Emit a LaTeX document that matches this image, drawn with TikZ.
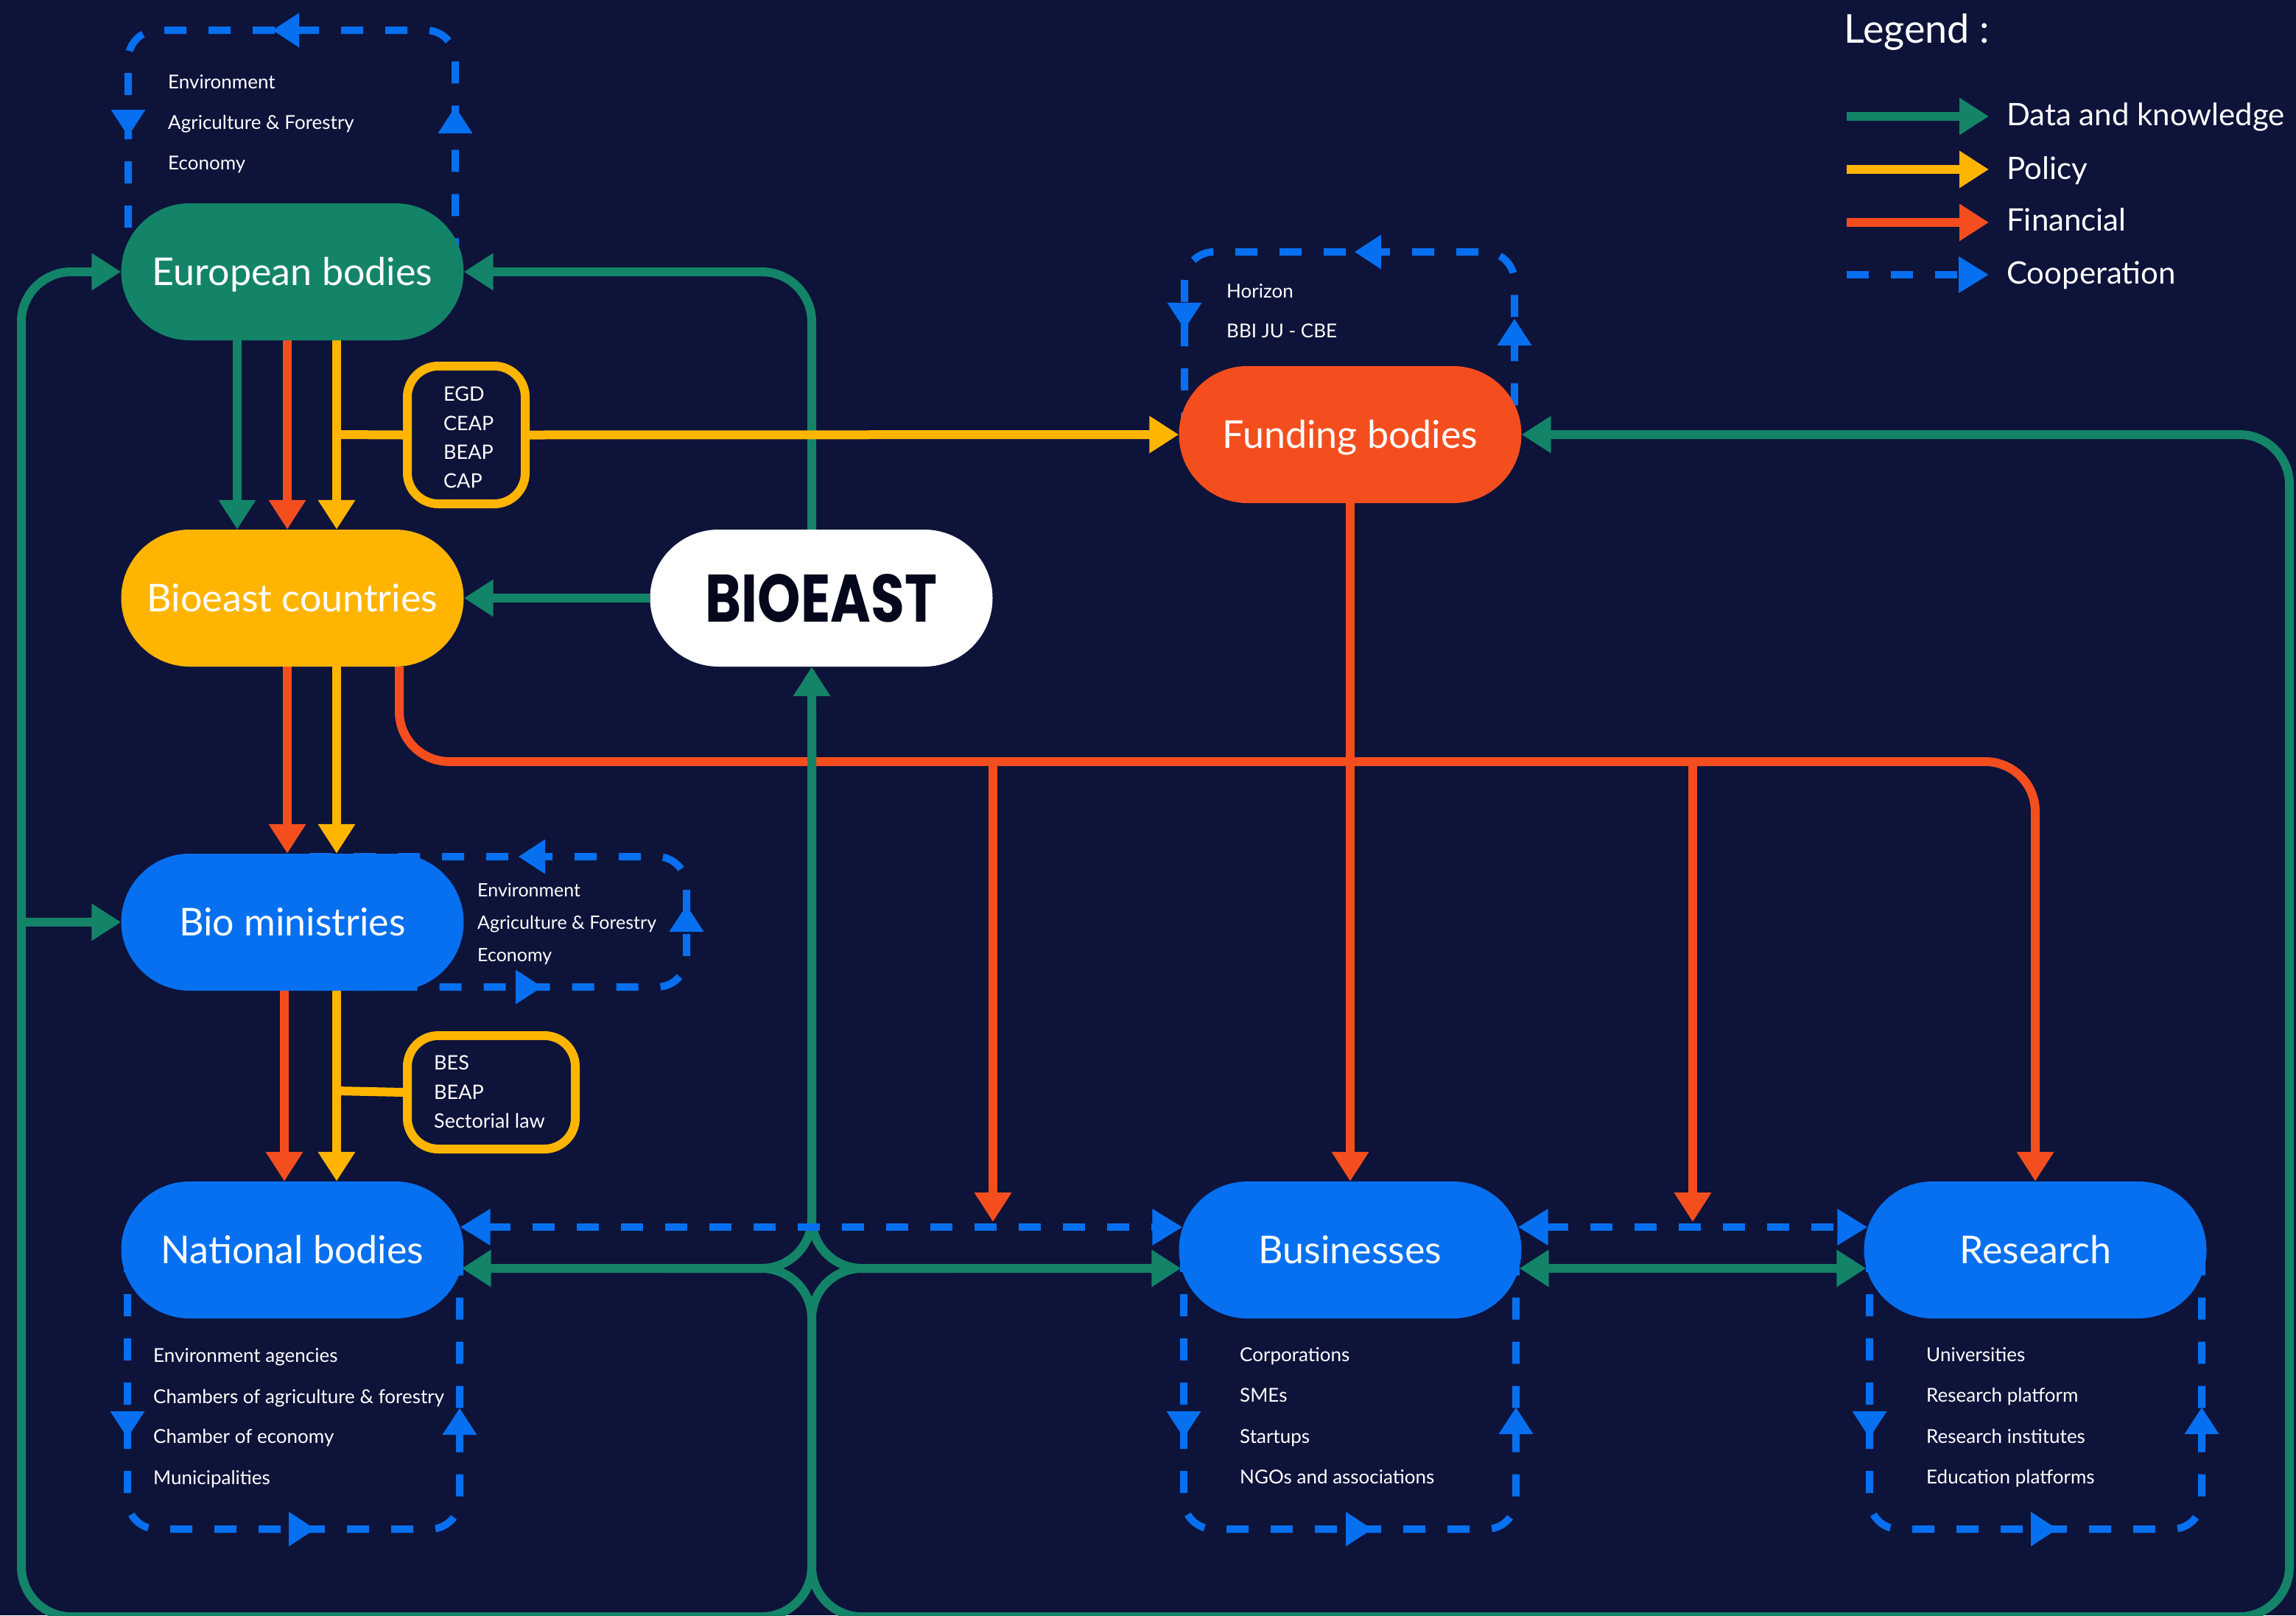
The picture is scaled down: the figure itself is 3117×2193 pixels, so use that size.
\documentclass[tikz,border=0pt]{standalone}
\usepackage{fontspec}
\usepackage{graphicx}
\setmainfont{Lato}
\newfontfamily\heavyfont{Poppins}
\usetikzlibrary{arrows.meta,calc}
\definecolor{bgc}{HTML}{0E133A}
\definecolor{cgreen}{HTML}{138468}
\definecolor{corange}{HTML}{F54E1E}
\definecolor{cyellow}{HTML}{FFB500}
\definecolor{cblue}{HTML}{0670F0}
\definecolor{cdark}{HTML}{05071C}
\pgfdeclarelayer{bgrect}
\pgfdeclarelayer{lines}
\pgfsetlayers{bgrect,lines,main}
\tikzset{
  gT/.tip={Triangle[width=48pt,length=40pt]},
  bT/.tip={Triangle[width=47pt,length=41pt]},
  sol/.style={line width=12pt},
  gline/.style={sol, draw=cgreen, -gT},
  oline/.style={sol, draw=corange, -gT},
  yline/.style={sol, draw=cyellow, -gT},
  yplain/.style={sol, draw=cyellow},
  bline/.style={draw=cblue, line width=10pt, dash pattern=on 30pt off 30pt},
  mainnode/.style={rectangle, rounded corners=93pt, minimum width=465pt, minimum height=186pt,
    inner sep=0pt, font=\fontsize{52}{60}\selectfont, text=white, text height=37pt, text depth=0pt},
  ybox/.style={rectangle, draw=cyellow, line width=12pt, rounded corners=42pt, inner sep=0pt, fill=bgc},
  small/.style={font=\fontsize{26}{30}\selectfont, text=white, inner sep=0pt, anchor=base west},
  mid/.style={font=\fontsize{27}{30}\selectfont, text=white, inner sep=0pt, anchor=base west},
  leg/.style={font=\fontsize{42}{48}\selectfont, text=white, inner sep=0pt, anchor=base west},
  mk/.pic={\fill[cblue] (0,0) -- (-36,-23.5) -- (-36,23.5) -- cycle;}
}
\begin{document}
\begin{tikzpicture}[x=1pt,y=-1pt]
\begin{pgfonlayer}{bgrect}
\fill[bgc] (0,0) rectangle (3117,2193);
\end{pgfonlayer}
\useasboundingbox (0,0) rectangle (3117,2193);

% main nodes
\node[mainnode, fill=cgreen] (eu) at (397,369) {European bodies};
\node[mainnode, fill=cyellow] (bc) at (397,812) {Bioeast countries};
\node[mainnode, fill=white, text=cdark, text height=65pt] (bio) at (1115,812) {\resizebox{314pt}{65pt}{\heavyfont\bfseries BIOEAST}};
\node[mainnode, fill=corange] (fund) at (1833,590) {Funding bodies};
\node[mainnode, fill=cblue] (bm) at (397,1252) {Bio ministries};
\node[mainnode, fill=cblue] (nb) at (397,1697) {National bodies};
\node[mainnode, fill=cblue] (bus) at (1833,1697) {Businesses};
\node[mainnode, fill=cblue] (res) at (2763,1697) {Research};

% policy boxes
\node[ybox, minimum width=160pt, minimum height=187pt] (egd) at (633,590.5) {};
\node[ybox, minimum width=228pt, minimum height=154pt] (bes) at (667,1483) {};

% texts
\node[small] (e1) at (228,120) {Environment};
\node[small] (e2) at (228,175) {Agriculture \& Forestry};
\node[small] (e3) at (228,230) {Economy};
\node[mid] (p1) at (602,544) {EGD};
\node[mid] (p2) at (602,584) {CEAP};
\node[mid] (p3) at (602,623) {BEAP};
\node[mid] (p4) at (602,662) {CAP};
\node[small] (f1) at (1665,404) {Horizon};
\node[small] (f2) at (1665,458) {BBI JU - CBE};
\node[small, font=\fontsize{25}{30}\selectfont] (m1) at (648,1217) {Environment};
\node[small, font=\fontsize{25}{30}\selectfont] (m2) at (648,1261) {Agriculture \& Forestry};
\node[small, font=\fontsize{25}{30}\selectfont] (m3) at (648,1305) {Economy};
\node[mid] (b1) at (589,1452) {BES};
\node[mid] (b2) at (589,1492) {BEAP};
\node[mid] (b3) at (589,1531) {Sectorial law};
\node[small] (n1) at (208,1849) {Environment agencies};
\node[small] (n2) at (208,1905) {Chambers of agriculture \& forestry};
\node[small] (n3) at (208,1959) {Chamber of economy};
\node[small] (n4) at (208,2015) {Municipalities};
\node[small] (s1) at (1683,1848) {Corporations};
\node[small] (s2) at (1683,1903) {SMEs};
\node[small] (s3) at (1683,1959) {Startups};
\node[small] (s4) at (1683,2014) {NGOs and associations};
\node[small] (r1) at (2615,1848) {Universities};
\node[small] (r2) at (2615,1903) {Research platform};
\node[small] (r3) at (2615,1959) {Research institutes};
\node[small] (r4) at (2615,2014) {Education platforms};

% legend
\node[font=\fontsize{54}{60}\selectfont, text=white, inner sep=0pt, anchor=base west] (legt) at (2503,58) {Legend :};
\node[leg] (l1) at (2724,170) {Data and knowledge};
\node[leg] (l2) at (2724,243) {Policy};
\node[leg] (l3) at (2724,313) {Financial};
\node[leg] (l4) at (2724,385) {Cooperation};
\coordinate (la1) at (2507,158); \coordinate (lb1) at (2700,158);
\coordinate (la2) at (2507,230); \coordinate (lb2) at (2700,230);
\coordinate (la3) at (2507,302); \coordinate (lb3) at (2700,302);
\coordinate (la4) at (2507,373); \coordinate (lb4) at (2700,373);
\draw[gline] (la1) -- (lb1);
\draw[yline] (la2) -- (lb2);
\draw[oline] (la3) -- (lb3);
\draw[bline, -bT] (la4) -- (lb4);

% helper coordinates
\coordinate (gx) at (1102,0);
\coordinate (gxl) at (900,1722);
\coordinate (gxr) at (1300,1722);
\coordinate (gl) at (29,1252);
\coordinate (yb1) at (457,590);
\coordinate (yb2) at (457,1481);
\coordinate (ob1) at (1348,1034);
\coordinate (ob1e) at (1348,1659);
\coordinate (ob2) at (2298,1034);
\coordinate (ob2e) at (2298,1659);

\begin{pgfonlayer}{lines}
% cooperation loops
\draw[bline, rounded corners=40pt] (174,369) -- (174,41) -- (618,41) -- (618,369);
\pic[rotate=180] at (370,41) {mk};
\pic[rotate=-90] at (174,185) {mk};
\pic[rotate=90] at (618,145) {mk};

\draw[bline, rounded corners=40pt] (1608,590) -- (1608,342) -- (2056,342) -- (2056,590);
\pic[rotate=180] at (1839,342) {mk};
\pic[rotate=-90] at (1608,447) {mk};
\pic[rotate=90] at (2056,433) {mk};

\draw[bline, rounded corners=40pt] (420,1163) -- (932,1163) -- (932,1340) -- (420,1340);
\pic[rotate=180] at (704,1163) {mk};
\pic at (736,1340) {mk};
\pic[rotate=90] at (932,1229) {mk};

\draw[bline, rounded corners=40pt] (173,1697) -- (173,2076) -- (624,2076) -- (624,1697);
\pic[rotate=-90] at (173,1952) {mk};
\pic at (428,2076) {mk};
\pic[rotate=90] at (624,1912) {mk};

\draw[bline, rounded corners=40pt] (1607,1697) -- (1607,2076) -- (2058,2076) -- (2058,1697);
\pic[rotate=-90] at (1607,1952) {mk};
\pic at (1863,2076) {mk};
\pic[rotate=90] at (2058,1911) {mk};

\draw[bline, rounded corners=40pt] (2538,1697) -- (2538,2076) -- (2989,2076) -- (2989,1697);
\pic[rotate=-90] at (2538,1952) {mk};
\pic at (2793,2076) {mk};
\pic[rotate=90] at (2989,1911) {mk};

% financial
\draw[oline] ($(eu.south)+(-7,0)$) -- ($(bc.north)+(-7,0)$);
\draw[oline] ($(bc.south)+(-7,0)$) -- ($(bm.north)+(-7,0)$);
\draw[oline] ($(bm.south)+(-11,0)$) -- ($(nb.north)+(-11,0)$);
\draw[oline] (fund.south) -- (bus.north);
\draw[oline, rounded corners=68pt] ($(bc.south)+(145,0)$) -- (542,1034) -- (2763,1034) -- (res.north);
\draw[oline] (ob1) -- (ob1e);
\draw[oline] (ob2) -- (ob2e);

% data and knowledge
\draw[gline] ($(eu.south)+(-75,0)$) -- ($(bc.north)+(-75,0)$);
\draw[gline] (bio.west) -- (bc.east);
\draw[gline, rounded corners=68pt] (bio.north -| gx) -- (1102,369) -- (eu.east);
\draw[gline, rounded corners=68pt, gT-gT] ($(nb.east)+(-3,25)$) -- (1102,1722) -- (bio.south -| gx);
\draw[gline, rounded corners=68pt] (bio.south -| gx) ++(0,60) -- (1102,1722) -- ($(bus.west)+(3,25)$);
\draw[gline, rounded corners=68pt] (gxl) -- (1102,1722) -- (1102,2195) -- (29,2195) -- (29,369) -- (eu.west);
\draw[gline, rounded corners=68pt] (gxr) -- (1102,1722) -- (1102,2195) -- (3108,2195) -- (3108,590) -- (fund.east);
\draw[gline] (gl) -- (bm.west);
\draw[gline, gT-gT] ($(bus.east)+(-3,25)$) -- ($(res.west)+(3,25)$);

% policy
\draw[yline] ($(eu.south)+(60,0)$) -- ($(bc.north)+(60,0)$);
\draw[yplain] (yb1) -- (egd.west);
\draw[yline] (egd.east) -- (fund.west);
\draw[yline] ($(bc.south)+(60,0)$) -- ($(bm.north)+(60,0)$);
\draw[yline] ($(bm.south)+(60,0)$) -- ($(nb.north)+(60,0)$);
\draw[yplain] (yb2) -- (bes.west);

% cooperation connectors
\draw[bline, bT-bT] ($(nb.east)+(-5,-31)$) -- ($(bus.west)+(5,-31)$);
\draw[bline, bT-bT] ($(bus.east)+(-5,-31)$) -- ($(res.west)+(5,-31)$);
\end{pgfonlayer}
\end{tikzpicture}
\end{document}
